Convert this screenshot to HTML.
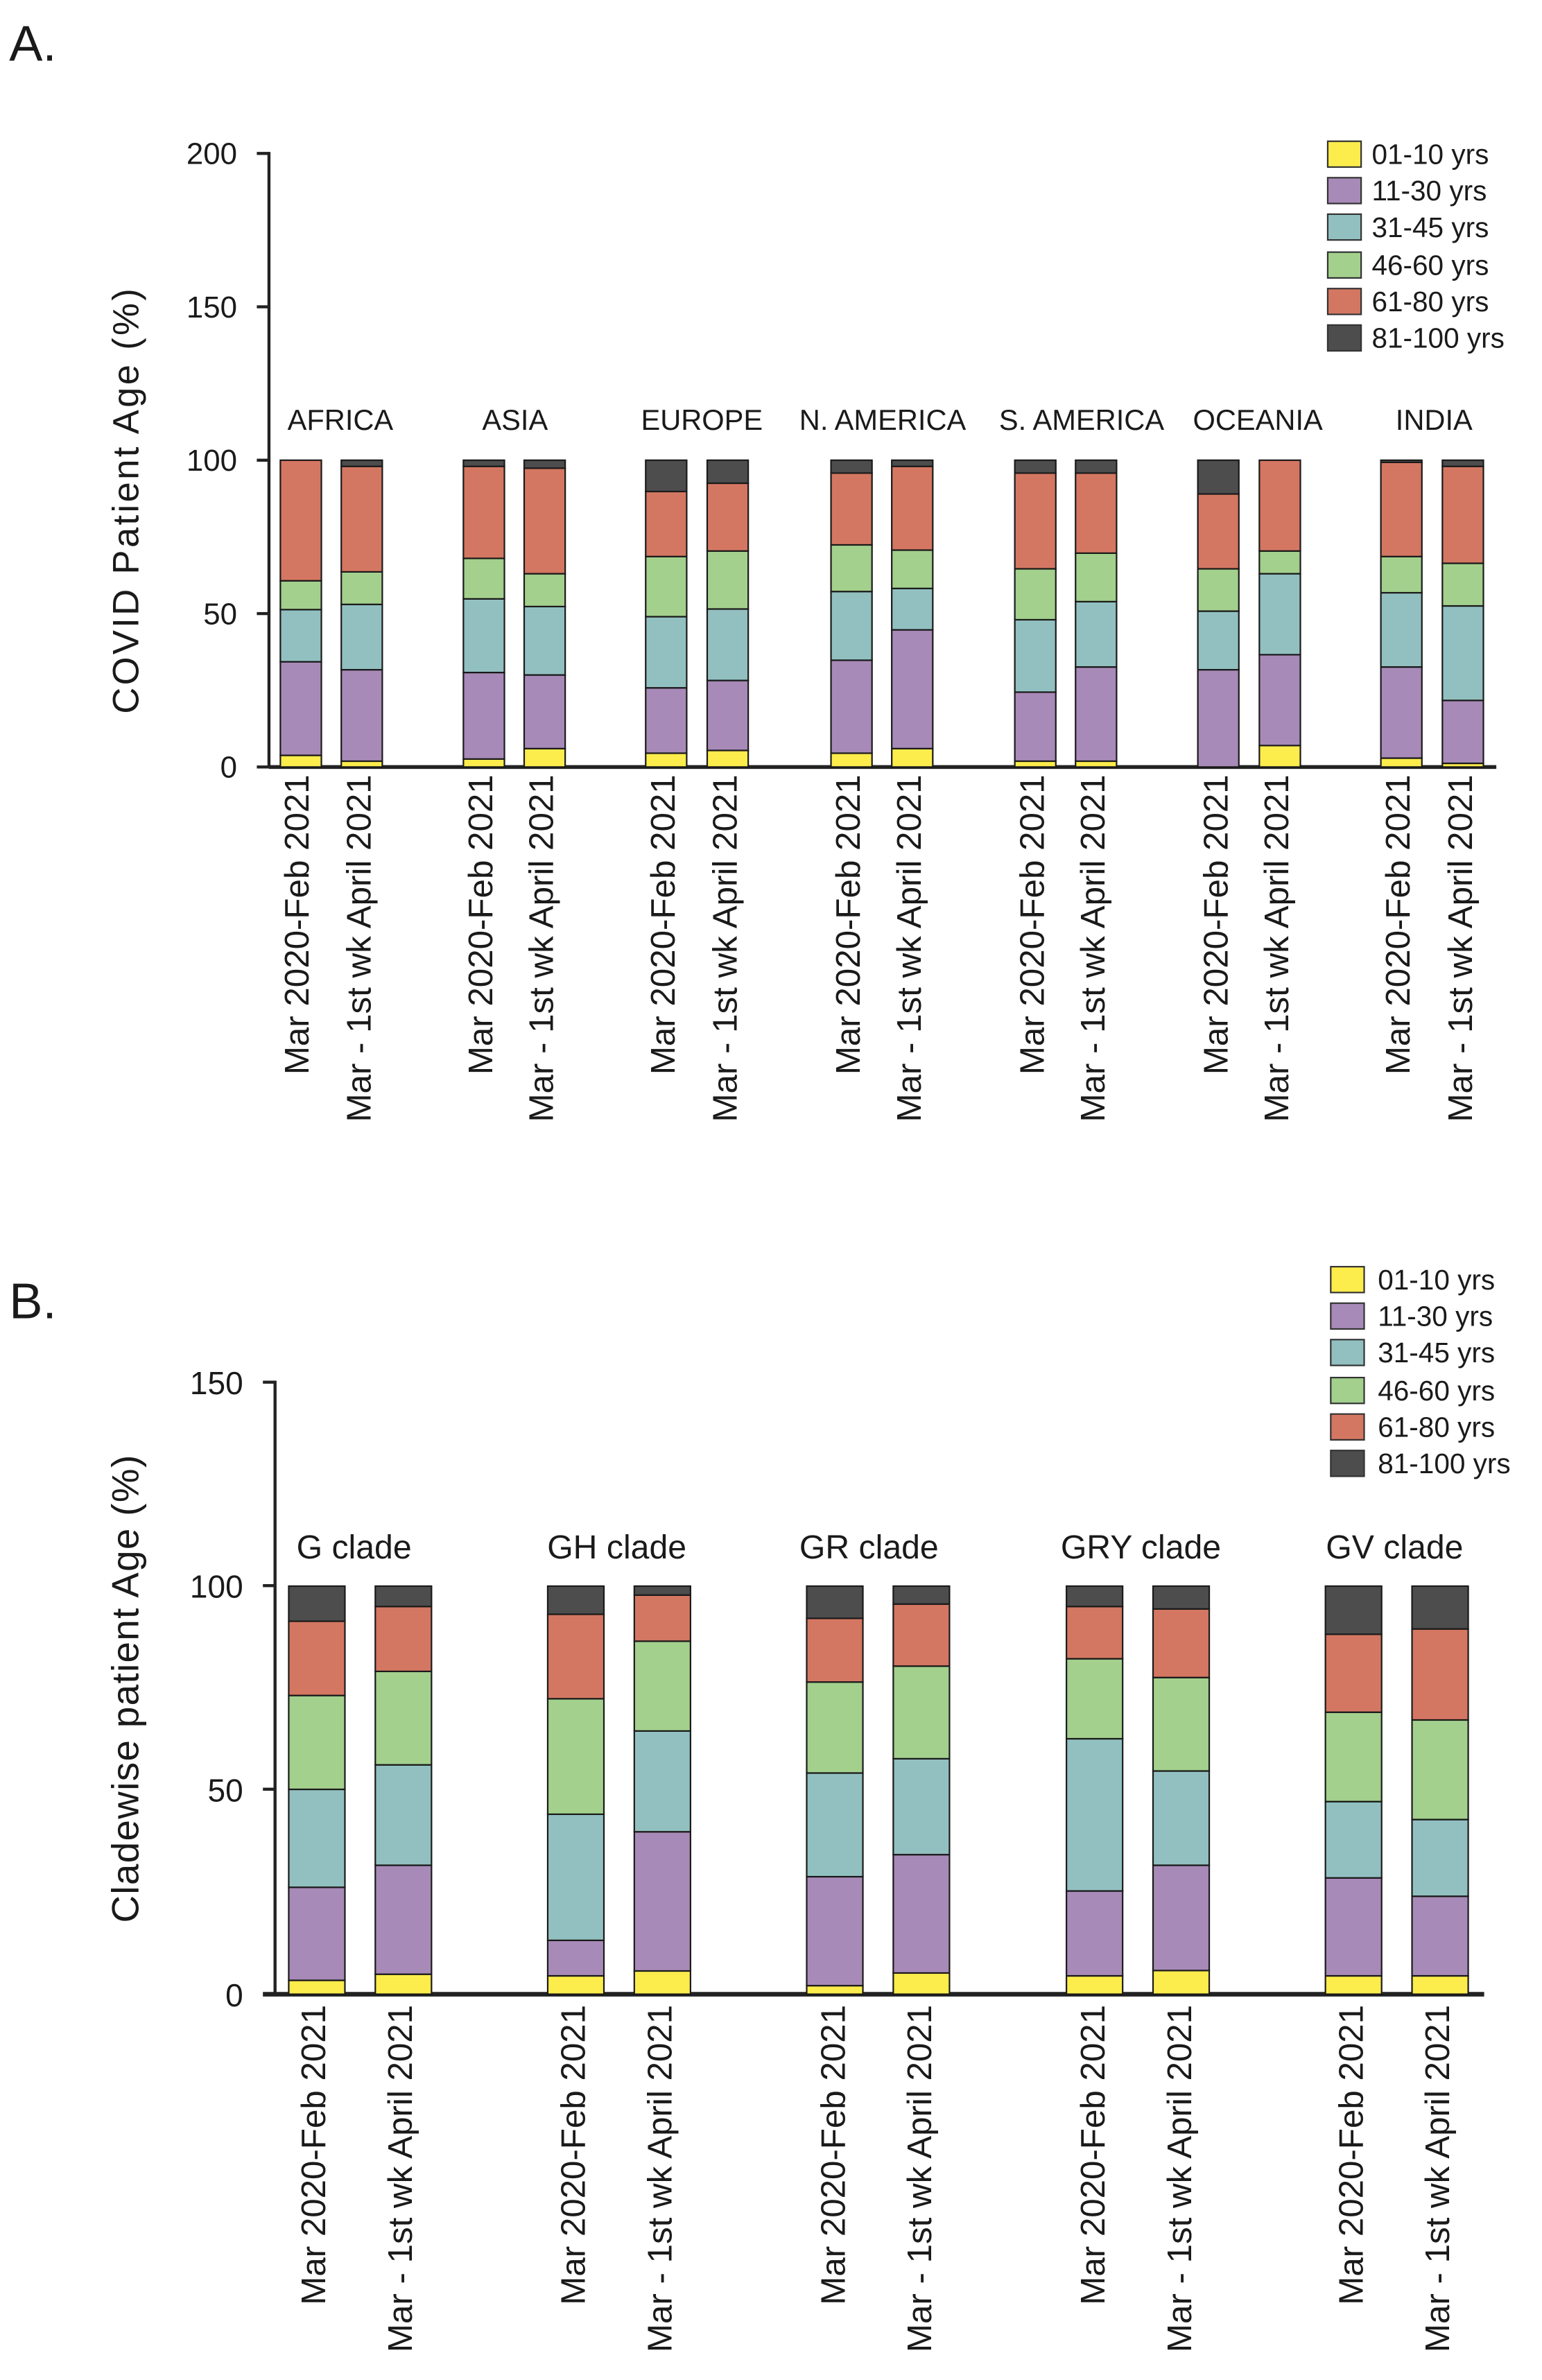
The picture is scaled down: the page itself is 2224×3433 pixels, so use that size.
<!DOCTYPE html>
<html><head><meta charset="utf-8"><style>
html,body{margin:0;padding:0;background:#fff;}
svg{display:block;}
text{font-family:"Liberation Sans",Arial,sans-serif;fill:#1a1a1a;}
</style></head><body>
<svg id="s" xmlns="http://www.w3.org/2000/svg" width="2224" height="3433" viewBox="0 0 1015 1567">
<rect width="1015" height="1567" fill="#fff"/>
<text x="6" y="40" font-size="33">A.</text>
<text x="6" y="868" font-size="33">B.</text>

<!-- Chart A axes -->
<g id="axA"></g>
<line x1="177" y1="100" x2="177" y2="505" stroke="#222" stroke-width="2"/>
<line x1="177" y1="505" x2="985" y2="505" stroke="#222" stroke-width="2.5"/>
<g stroke="#222" stroke-width="2">
<line x1="169" y1="101" x2="177" y2="101"/><line x1="169" y1="202" x2="177" y2="202"/>
<line x1="169" y1="303" x2="177" y2="303"/><line x1="169" y1="404" x2="177" y2="404"/>
<line x1="169" y1="505" x2="177" y2="505"/>
</g>
<g font-size="20" text-anchor="end">
<text x="156" y="108">200</text><text x="156" y="209">150</text><text x="156" y="310">100</text>
<text x="156" y="411">50</text><text x="156" y="512">0</text>
</g>
<text transform="translate(91,330) rotate(-90)" font-size="24" text-anchor="middle" textLength="280">COVID Patient Age  (%)</text>
<g font-size="19" text-anchor="middle">
<text x="224" y="283">AFRICA</text><text x="339" y="283">ASIA</text><text x="462" y="283">EUROPE</text>
<text x="581" y="283">N. AMERICA</text><text x="712" y="283">S. AMERICA</text><text x="828" y="283">OCEANIA</text>
<text x="944" y="283">INDIA</text>
</g>
<g id="barsA"></g>
<g id="lblA" font-size="22.5" text-anchor="end"></g>

<!-- Chart B -->
<line x1="181" y1="909" x2="181" y2="1313" stroke="#222" stroke-width="2"/>
<line x1="173" y1="1313" x2="977" y2="1313" stroke="#222" stroke-width="3"/>
<g stroke="#222" stroke-width="2">
<line x1="173" y1="910" x2="181" y2="910"/><line x1="173" y1="1044" x2="181" y2="1044"/>
<line x1="173" y1="1178" x2="181" y2="1178"/>
</g>
<g font-size="21" text-anchor="end">
<text x="160" y="918">150</text><text x="160" y="1052">100</text><text x="160" y="1186">50</text><text x="160" y="1321">0</text>
</g>
<text transform="translate(91,1112) rotate(-90)" font-size="25" text-anchor="middle" textLength="308">Cladewise patient Age (%)</text>
<g font-size="22" text-anchor="middle">
<text x="233" y="1026">G clade</text><text x="406" y="1026">GH clade</text><text x="572" y="1026">GR clade</text>
<text x="751" y="1026">GRY clade</text><text x="918" y="1026">GV clade</text>
</g>
<g id="barsB"></g>

<!-- x labels (static text) -->
<g font-size="22.5" text-anchor="end">
<text transform="translate(203,510) rotate(-90)">Mar 2020-Feb 2021</text>
<text transform="translate(244,510) rotate(-90)">Mar - 1st wk April 2021</text>
<text transform="translate(324,510) rotate(-90)">Mar 2020-Feb 2021</text>
<text transform="translate(364,510) rotate(-90)">Mar - 1st wk April 2021</text>
<text transform="translate(444,510) rotate(-90)">Mar 2020-Feb 2021</text>
<text transform="translate(485,510) rotate(-90)">Mar - 1st wk April 2021</text>
<text transform="translate(566,510) rotate(-90)">Mar 2020-Feb 2021</text>
<text transform="translate(606,510) rotate(-90)">Mar - 1st wk April 2021</text>
<text transform="translate(687,510) rotate(-90)">Mar 2020-Feb 2021</text>
<text transform="translate(727,510) rotate(-90)">Mar - 1st wk April 2021</text>
<text transform="translate(808,510) rotate(-90)">Mar 2020-Feb 2021</text>
<text transform="translate(848,510) rotate(-90)">Mar - 1st wk April 2021</text>
<text transform="translate(928,510) rotate(-90)">Mar 2020-Feb 2021</text>
<text transform="translate(969,510) rotate(-90)">Mar - 1st wk April 2021</text>

<text transform="translate(214,1320) rotate(-90)">Mar 2020-Feb 2021</text>
<text transform="translate(271,1320) rotate(-90)">Mar - 1st wk April 2021</text>
<text transform="translate(385,1320) rotate(-90)">Mar 2020-Feb 2021</text>
<text transform="translate(442,1320) rotate(-90)">Mar - 1st wk April 2021</text>
<text transform="translate(556,1320) rotate(-90)">Mar 2020-Feb 2021</text>
<text transform="translate(613,1320) rotate(-90)">Mar - 1st wk April 2021</text>
<text transform="translate(727,1320) rotate(-90)">Mar 2020-Feb 2021</text>
<text transform="translate(784,1320) rotate(-90)">Mar - 1st wk April 2021</text>
<text transform="translate(897,1320) rotate(-90)">Mar 2020-Feb 2021</text>
<text transform="translate(954,1320) rotate(-90)">Mar - 1st wk April 2021</text>
</g>

<!-- Legends -->
<g stroke="#333" stroke-width="1">
<rect x="874" y="93" width="22" height="17" fill="#fcec4c"/>
<rect x="874" y="117" width="22" height="17" fill="#a88ab8"/>
<rect x="874" y="141" width="22" height="17" fill="#92c0c0"/>
<rect x="874" y="166" width="22" height="17" fill="#a3d08d"/>
<rect x="874" y="190" width="22" height="17" fill="#d47762"/>
<rect x="874" y="214" width="22" height="17" fill="#4d4d4d"/>
<rect x="876" y="834" width="22" height="17" fill="#fcec4c"/>
<rect x="876" y="858" width="22" height="17" fill="#a88ab8"/>
<rect x="876" y="882" width="22" height="17" fill="#92c0c0"/>
<rect x="876" y="907" width="22" height="17" fill="#a3d08d"/>
<rect x="876" y="931" width="22" height="17" fill="#d47762"/>
<rect x="876" y="955" width="22" height="17" fill="#4d4d4d"/>
</g>
<g font-size="18.5">
<text x="903" y="108">01-10 yrs</text><text x="903" y="132">11-30 yrs</text><text x="903" y="156">31-45 yrs</text>
<text x="903" y="181">46-60 yrs</text><text x="903" y="205">61-80 yrs</text><text x="903" y="229">81-100 yrs</text>
<text x="907" y="849">01-10 yrs</text><text x="907" y="873">11-30 yrs</text><text x="907" y="897">31-45 yrs</text>
<text x="907" y="922">46-60 yrs</text><text x="907" y="946">61-80 yrs</text><text x="907" y="970">81-100 yrs</text>
</g>
</svg>
<script>
var C=["#fcec4c","#a88ab8","#92c0c0","#a3d08d","#d47762","#4d4d4d"];
var NS="http://www.w3.org/2000/svg";
function draw(gid,xs,w,data,y0,k){
  var g=document.getElementById(gid);
  for(var i=0;i<xs.length;i++){
    var prev=0;var d=data[i].concat([100]);
    for(var j=0;j<6;j++){
      var v=d[j]; if(v===null) continue;
      if(v-prev<=0.01){continue;}
      var r=document.createElementNS(NS,"rect");
      r.setAttribute("x",xs[i]);r.setAttribute("width",w);
      r.setAttribute("y",y0-k*v);r.setAttribute("height",k*(v-prev));
      r.setAttribute("fill",C[j]);r.setAttribute("stroke","#1a1a1a");r.setAttribute("stroke-width","1");
      g.appendChild(r);prev=v;
    }
  }
}
draw("barsA",[184.5,224.6,305,345,425,465.5,547,587,668,708,788.5,829,909,949.5],27,[
[3.8,34.3,51.3,60.7,100],[1.9,31.7,53,63.6,98],
[2.6,30.8,54.8,68,98],[6,30,52.3,63,97.4],
[4.5,25.8,49,68.6,89.8],[5.4,28.2,51.5,70.4,92.5],
[4.5,34.8,57.2,72.4,95.8],[6,44.7,58.2,70.7,98],
[1.9,24.4,48,64.6,95.8],[1.9,32.6,53.9,69.7,95.8],
[0,31.7,50.8,64.6,89],[7,36.6,63,70.4,100],
[2.9,32.6,56.8,68.6,99.3],[1.2,21.7,52.5,66.4,98]],505,2.02);
draw("barsB",[190,247,360.5,417.5,531,588,702,759,872.5,929.5],37,[
[3.4,26.2,50.2,73.2,91.4],[4.9,31.6,56.2,79.1,95],
[4.5,13.2,44.1,72.4,93.1],[5.7,39.8,64.5,86.5,97.8],
[2.1,28.8,54.2,76.5,92.1],[5.2,34.2,57.7,80.4,95.6],
[4.5,25.3,62.6,82.2,95],[5.8,31.6,54.7,77.6,94.4],
[4.5,28.5,47.2,69.1,88.2],[4.5,24,42.8,67.2,89.5]],1313,2.687);
</script>
</body></html>
